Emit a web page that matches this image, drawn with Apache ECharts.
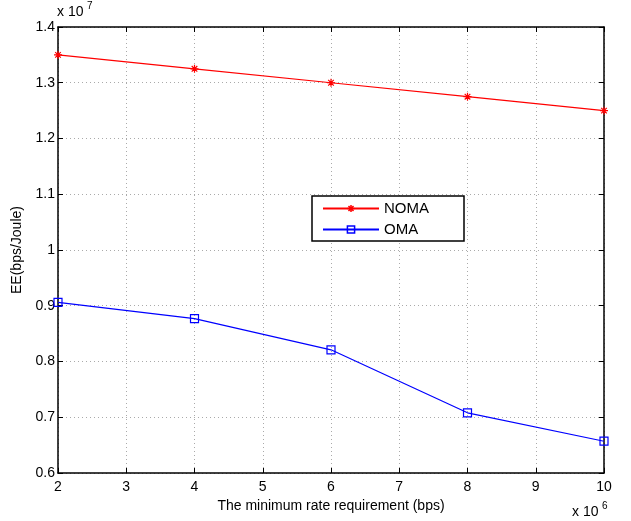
<!DOCTYPE html>
<html>
<head>
<meta charset="utf-8">
<script src="https://cdn.jsdelivr.net/npm/echarts@6/dist/echarts.min.js"></script>
<style>html,body{margin:0;padding:0;background:#fff;}#c{width:631px;height:521px;}</style>
</head>
<body>
<div id="c"></div>
<script>
const xValues = [2, 4, 6, 8, 10];          // x 10^6 bps
const nomaValues = [1.35, 1.325, 1.30, 1.275, 1.25];   // x 10^7
const omaValues = [0.906, 0.877, 0.821, 0.708, 0.657]; // x 10^7
const seriesNames = ['NOMA', 'OMA'];
const xLabel = 'The minimum rate requirement (bps)';
const yLabel = 'EE(bps/Joule)';

const font = 'Liberation Sans, Arial, Helvetica, sans-serif';
const chart = echarts.init(document.getElementById('c'));
const star = 'path://M0,-10L0,10M-10,0L10,0M-7,-7L7,7M-7,7L7,-7';
const fmt = v => String(parseFloat(v.toFixed(1)));
const gridLine = {show: true, lineStyle: {color: '#aaa', type: [1, 3], width: 1}};
const baseAxis = {
  axisLine: {show: true, onZero: false, lineStyle: {color: '#000', width: 1.5}},
  axisTick: {show: true, inside: true, length: 5, lineStyle: {color: '#000'}},
  axisLabel: {color: '#000', fontSize: 14, fontFamily: font},
};
chart.setOption({
  animation: false,
  backgroundColor: '#fff',
  grid: {left: 58, right: 27, top: 27, bottom: 48},
  xAxis: [
    Object.assign({}, baseAxis, {type: 'value', min: 2, max: 10, interval: 1, position: 'bottom',
      name: xLabel, nameLocation: 'middle', nameGap: 25,
      nameTextStyle: {color: '#000', fontSize: 14, fontFamily: font},
      axisLabel: Object.assign({}, baseAxis.axisLabel, {margin: 7}),
      splitLine: gridLine}),
    Object.assign({}, baseAxis, {type: 'value', min: 2, max: 10, interval: 1, position: 'top',
      axisLabel: {show: false}, splitLine: {show: false}})
  ],
  yAxis: [
    Object.assign({}, baseAxis, {type: 'value', min: 0.6, max: 1.4, interval: 0.1, position: 'left',
      name: yLabel, nameLocation: 'middle', nameGap: 33, nameRotate: 90,
      nameTextStyle: {color: '#000', fontSize: 14, fontFamily: font},
      axisLabel: Object.assign({}, baseAxis.axisLabel, {formatter: fmt, margin: 3}),
      splitLine: gridLine}),
    Object.assign({}, baseAxis, {type: 'value', min: 0.6, max: 1.4, interval: 0.1, position: 'right',
      axisLabel: {show: false}, splitLine: {show: false}})
  ],
  legend: {
    orient: 'vertical', left: 312, top: 196, width: 146,
    backgroundColor: '#fff', borderColor: '#000', borderWidth: 1.5, borderRadius: 0,
    padding: [5, 35, 4, 10], itemGap: 6, itemWidth: 56, itemHeight: 9,
    textStyle: {color: '#000', fontSize: 15, fontFamily: font},
    data: [
      {name: seriesNames[0], itemStyle: {borderColor: '#ff0000', borderWidth: 1.5}},
      {name: seriesNames[1], itemStyle: {borderColor: '#0000ff', borderWidth: 1.5}}
    ]
  },
  graphic: [
    {type: 'text', left: 57, top: 5, style: {text: 'x 10', fill: '#000', font: '14px ' + font}},
    {type: 'text', left: 87, top: 1, style: {text: '7', fill: '#000', font: '10px ' + font}},
    {type: 'text', left: 572, top: 505, style: {text: 'x 10', fill: '#000', font: '14px ' + font}},
    {type: 'text', left: 602, top: 501, style: {text: '6', fill: '#000', font: '10px ' + font}}
  ],
  series: [
    {name: seriesNames[0], type: 'line', data: xValues.map((x, i) => [x, nomaValues[i]]),
      symbol: star, symbolSize: 8, showAllSymbol: true,
      lineStyle: {color: '#ff0000', width: 1.2},
      itemStyle: {color: '#ff0000', borderColor: '#ff0000', borderWidth: 1.2}},
    {name: seriesNames[1], type: 'line', data: xValues.map((x, i) => [x, omaValues[i]]),
      symbol: 'rect', symbolSize: 8, showAllSymbol: true,
      lineStyle: {color: '#0000ff', width: 1.2},
      itemStyle: {color: 'rgba(0,0,0,0)', borderColor: '#0000ff', borderWidth: 1.2}}
  ]
});
</script>
</body>
</html>
